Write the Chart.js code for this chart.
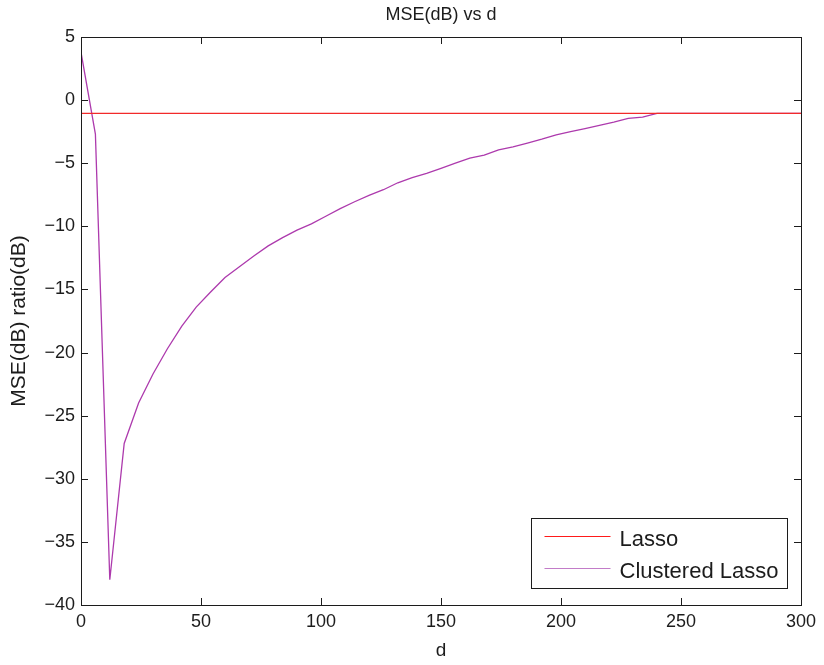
<!DOCTYPE html>
<html>
<head>
<meta charset="utf-8">
<script src="https://cdn.jsdelivr.net/npm/chart.js@4/dist/chart.umd.min.js"></script>
<style>
  html, body { margin: 0; padding: 0; background: #ffffff; }
  #wrap { width: 824px; height: 665px; position: relative; }
</style>
</head>
<body>
<div id="wrap"><canvas id="chart" width="824" height="665"></canvas></div>
<script>
// Dimension d at which each MSE ratio was evaluated
const dValues = [
  0, 6, 12, 18, 24, 30, 36, 42, 48, 54,
  60, 66, 72, 78, 84, 90, 96, 102, 108, 114,
  120, 126, 132, 138, 144, 150, 156, 162, 168, 174,
  180, 186, 192, 198, 204, 210, 216, 222, 228, 234,
  240, 246, 252, 258, 264, 270, 276, 282, 288, 294, 300
];

// Clustered Lasso MSE ratio (dB) for each d
const clusteredLassoMse = [
  3.8, -2.7, -38.0, -27.2, -24.0, -21.7, -19.7, -17.9, -16.4, -15.2,
  -14.05, -13.2, -12.35, -11.55, -10.9, -10.3, -9.8, -9.2, -8.6, -8.05,
  -7.55, -7.1, -6.55, -6.15, -5.8, -5.4, -5.0, -4.6, -4.35, -3.95,
  -3.7, -3.4, -3.1, -2.75, -2.5, -2.25, -2.0, -1.75, -1.45, -1.35,
  -1.05, -1.05, -1.05, -1.05, -1.05, -1.05, -1.05, -1.05, -1.05, -1.05, -1.05
];

// Lasso MSE ratio (dB): flat across d
const lassoD = [0, 300];
const lassoMse = [-1.05, -1.05];

// Axis ticks
const xTicks = [0, 50, 100, 150, 200, 250, 300];
const yTicks = [5, 0, -5, -10, -15, -20, -25, -30, -35, -40];

const TITLE = 'MSE(dB) vs d';
const FONT = "'Liberation Sans', Arial, Helvetica, sans-serif";
const INK = '#1c1c1c';

const toPoints = (xs, ys) => xs.map((x, i) => ({ x: x, y: ys[i] }));

// Title centred over the plot area
const plotTitle = {
  id: 'plotTitle',
  afterDraw(chart) {
    const { ctx, chartArea: a } = chart;
    ctx.save();
    ctx.fillStyle = INK;
    ctx.font = '18px ' + FONT;
    ctx.textAlign = 'center';
    ctx.textBaseline = 'middle';
    ctx.fillText(TITLE, (a.left + a.right) / 2, 15);
    ctx.restore();
  }
};

// Box around the plot with inward tick marks on all four sides
const frameTicks = {
  id: 'frameTicks',
  afterDatasetsDraw(chart) {
    const { ctx, chartArea: a, scales } = chart;
    const len = 7;
    ctx.save();
    ctx.strokeStyle = INK;
    ctx.lineWidth = 1;
    ctx.beginPath();
    scales.x.ticks.forEach(t => {
      const px = Math.round(scales.x.getPixelForValue(t.value)) + 0.5;
      ctx.moveTo(px, a.bottom); ctx.lineTo(px, a.bottom - len);
      ctx.moveTo(px, a.top); ctx.lineTo(px, a.top + len);
    });
    scales.y.ticks.forEach(t => {
      const py = Math.round(scales.y.getPixelForValue(t.value)) + 0.5;
      ctx.moveTo(a.left, py); ctx.lineTo(a.left + len, py);
      ctx.moveTo(a.right, py); ctx.lineTo(a.right - len, py);
    });
    ctx.stroke();
    ctx.strokeRect(Math.round(a.left) + 0.5, Math.round(a.top) + 0.5,
                   Math.round(a.right - a.left), Math.round(a.bottom - a.top));
    ctx.restore();
  }
};

// Boxed legend in the lower right of the plot
const boxLegend = {
  id: 'boxLegend',
  afterDraw(chart) {
    const { ctx, chartArea: a } = chart;
    const sets = chart.data.datasets;
    const boxW = 256, boxH = 70;
    const bx = a.right - 14 - boxW + 0.5;
    const by = a.bottom - 17 - boxH + 0.5;
    ctx.save();
    ctx.fillStyle = '#ffffff';
    ctx.fillRect(bx, by, boxW, boxH);
    ctx.strokeStyle = INK;
    ctx.lineWidth = 1;
    ctx.strokeRect(bx, by, boxW, boxH);
    ctx.font = '22px ' + FONT;
    ctx.textBaseline = 'middle';
    ctx.textAlign = 'left';
    sets.forEach((ds, i) => {
      const y = by + 18 + i * 32;
      ctx.strokeStyle = ds.legendColor || ds.borderColor;
      ctx.lineWidth = 1.2;
      ctx.beginPath();
      ctx.moveTo(bx + 13, y);
      ctx.lineTo(bx + 79, y);
      ctx.stroke();
      ctx.fillStyle = INK;
      ctx.fillText(ds.label, bx + 88, y + 3);
    });
    ctx.restore();
  }
};

new Chart(document.getElementById('chart'), {
  type: 'line',
  data: {
    datasets: [
      {
        label: 'Lasso',
        data: toPoints(lassoD, lassoMse),
        borderColor: '#f22a2a',
        legendColor: '#ff1a1a',
        borderWidth: 1.3,
        pointRadius: 0,
        tension: 0
      },
      {
        label: 'Clustered Lasso',
        data: toPoints(dValues, clusteredLassoMse),
        borderColor: '#ad3aad',
        legendColor: '#c27cc8',
        borderWidth: 1.3,
        pointRadius: 0,
        tension: 0
      }
    ]
  },
  options: {
    responsive: false,
    animation: false,
    layout: { padding: { left: 0, right: 23, top: 37, bottom: 0 } },
    plugins: {
      legend: { display: false },
      tooltip: { enabled: false },
      title: { display: false }
    },
    scales: {
      x: {
        type: 'linear',
        min: 0,
        max: 300,
        afterFit: s => { s.height = 60; },
        afterBuildTicks: s => { s.ticks = xTicks.map(v => ({ value: v })); },
        grid: { display: false, drawTicks: false },
        border: { display: false },
        ticks: {
          padding: 6,
          color: INK,
          maxRotation: 0,
          font: { family: FONT, size: 18 },
          callback: v => String(v).replace('-', '\u2212')
        },
        title: {
          display: true,
          text: 'd',
          color: INK,
          font: { family: FONT, size: 19 },
          padding: { top: 4, bottom: 3 }
        }
      },
      y: {
        type: 'linear',
        min: -40,
        max: 5,
        afterFit: s => { s.width = 81; },
        afterBuildTicks: s => { s.ticks = yTicks.map(v => ({ value: v })); },
        grid: { display: false, drawTicks: false },
        border: { display: false },
        ticks: {
          padding: 6,
          color: INK,
          font: { family: FONT, size: 18 },
          callback: v => String(v).replace('-', '\u2212')
        },
        title: {
          display: true,
          text: 'MSE(dB) ratio(dB)',
          color: INK,
          font: { family: FONT, size: 21 },
          padding: { top: 7, bottom: 4 }
        }
      }
    }
  },
  plugins: [plotTitle, frameTicks, boxLegend]
});
</script>
</body>
</html>
